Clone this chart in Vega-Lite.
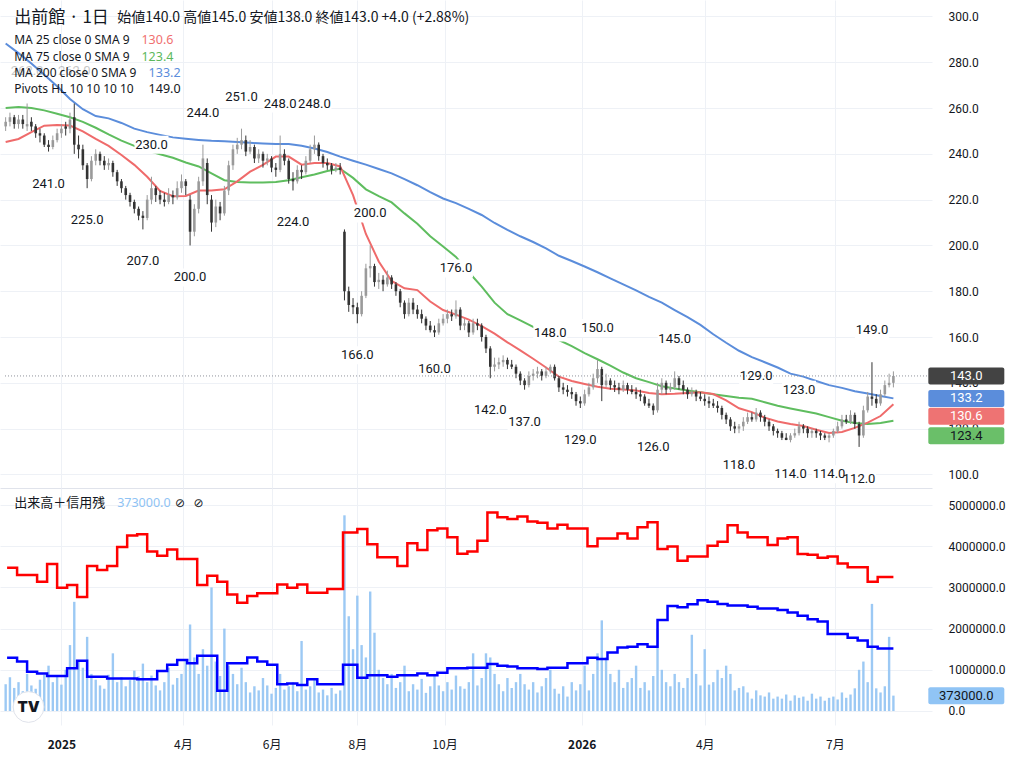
{
"$schema":"https://vega.github.io/schema/vega-lite/v6.json",
"padding":0,
"spacing":0,
"background":"#ffffff",
"config":{"view":{"stroke":null},"font":"Roboto","axis":{"labelFont":"Roboto","labelFontSize":12,"labelColor":"#131722","gridColor":"#eef1f6","gridWidth":1,"ticks":false,"domain":false}},
"resolve":{"scale":{"x":"independent","y":"independent","color":"independent"}},
"datasets":{
"k":[
{"d":"2024-11-28","o":252,"h":256,"l":250,"c":254,"v":650000},
{"d":"2024-12-01","o":254,"h":258,"l":252,"c":256,"v":820000},
{"d":"2024-12-04","o":256,"h":257,"l":251,"c":253,"v":560000},
{"d":"2024-12-07","o":253,"h":257,"l":251,"c":255,"v":700000},
{"d":"2024-12-10","o":255,"h":257,"l":251,"c":253,"v":480000},
{"d":"2024-12-13","o":252,"h":262,"l":250,"c":253,"v":900000},
{"d":"2024-12-16","o":254,"h":256,"l":250,"c":252,"v":620000},
{"d":"2024-12-19","o":252,"h":253,"l":247,"c":249,"v":540000},
{"d":"2024-12-22","o":249,"h":251,"l":245,"c":248,"v":760000},
{"d":"2024-12-25","o":248,"h":249,"l":243,"c":244,"v":880000},
{"d":"2024-12-28","o":244,"h":246,"l":241,"c":243,"v":1100000},
{"d":"2024-12-31","o":243,"h":248,"l":242,"c":246,"v":700000},
{"d":"2025-01-03","o":246,"h":251,"l":245,"c":249,"v":850000},
{"d":"2025-01-06","o":249,"h":253,"l":247,"c":251,"v":640000},
{"d":"2025-01-09","o":252,"h":254,"l":248,"c":251,"v":1000000},
{"d":"2025-01-12","o":251,"h":258,"l":249,"c":255,"v":1600000},
{"d":"2025-01-15","o":256,"h":262,"l":240,"c":244,"v":2650000},
{"d":"2025-01-18","o":244,"h":248,"l":238,"c":242,"v":1200000},
{"d":"2025-01-21","o":242,"h":244,"l":233,"c":235,"v":1050000},
{"d":"2025-01-24","o":235,"h":236,"l":225,"c":229,"v":1800000},
{"d":"2025-01-27","o":229,"h":239,"l":228,"c":237,"v":900000},
{"d":"2025-01-30","o":237,"h":242,"l":235,"c":240,"v":760000},
{"d":"2025-02-02","o":240,"h":241,"l":235,"c":237,"v":620000},
{"d":"2025-02-05","o":237,"h":239,"l":233,"c":235,"v":540000},
{"d":"2025-02-08","o":235,"h":238,"l":233,"c":236,"v":880000},
{"d":"2025-02-11","o":236,"h":237,"l":230,"c":232,"v":1400000},
{"d":"2025-02-14","o":232,"h":233,"l":226,"c":228,"v":700000},
{"d":"2025-02-17","o":228,"h":229,"l":223,"c":225,"v":820000},
{"d":"2025-02-20","o":225,"h":226,"l":220,"c":222,"v":600000},
{"d":"2025-02-23","o":222,"h":223,"l":217,"c":219,"v":750000},
{"d":"2025-02-26","o":219,"h":220,"l":214,"c":216,"v":980000},
{"d":"2025-03-01","o":216,"h":217,"l":211,"c":213,"v":840000},
{"d":"2025-03-04","o":213,"h":215,"l":207,"c":212,"v":1150000},
{"d":"2025-03-07","o":212,"h":222,"l":211,"c":220,"v":700000},
{"d":"2025-03-10","o":220,"h":230,"l":218,"c":225,"v":860000},
{"d":"2025-03-13","o":225,"h":226,"l":219,"c":222,"v":620000},
{"d":"2025-03-16","o":222,"h":224,"l":218,"c":220,"v":500000},
{"d":"2025-03-19","o":220,"h":223,"l":217,"c":219,"v":700000},
{"d":"2025-03-22","o":219,"h":225,"l":218,"c":222,"v":1050000},
{"d":"2025-03-25","o":222,"h":224,"l":218,"c":221,"v":640000},
{"d":"2025-03-28","o":221,"h":228,"l":220,"c":225,"v":800000},
{"d":"2025-03-31","o":225,"h":231,"l":223,"c":228,"v":900000},
{"d":"2025-04-03","o":228,"h":229,"l":222,"c":226,"v":1250000},
{"d":"2025-04-06","o":220,"h":222,"l":200,"c":206,"v":2100000},
{"d":"2025-04-09","o":206,"h":218,"l":204,"c":216,"v":1300000},
{"d":"2025-04-12","o":216,"h":230,"l":214,"c":228,"v":900000},
{"d":"2025-04-15","o":228,"h":244,"l":226,"c":238,"v":1500000},
{"d":"2025-04-18","o":236,"h":238,"l":218,"c":222,"v":1100000},
{"d":"2025-04-21","o":220,"h":222,"l":206,"c":210,"v":3000000},
{"d":"2025-04-24","o":210,"h":220,"l":208,"c":217,"v":1200000},
{"d":"2025-04-27","o":217,"h":219,"l":211,"c":214,"v":850000},
{"d":"2025-04-30","o":214,"h":226,"l":213,"c":224,"v":2000000},
{"d":"2025-05-03","o":224,"h":237,"l":222,"c":235,"v":1100000},
{"d":"2025-05-06","o":235,"h":244,"l":233,"c":242,"v":900000},
{"d":"2025-05-09","o":242,"h":247,"l":240,"c":244,"v":650000},
{"d":"2025-05-12","o":244,"h":251,"l":242,"c":246,"v":1050000},
{"d":"2025-05-15","o":246,"h":248,"l":239,"c":241,"v":700000},
{"d":"2025-05-18","o":241,"h":246,"l":240,"c":243,"v":450000},
{"d":"2025-05-21","o":243,"h":244,"l":236,"c":238,"v":600000},
{"d":"2025-05-24","o":238,"h":242,"l":236,"c":240,"v":500000},
{"d":"2025-05-27","o":240,"h":241,"l":234,"c":237,"v":800000},
{"d":"2025-05-30","o":237,"h":240,"l":235,"c":238,"v":620000},
{"d":"2025-06-02","o":238,"h":239,"l":232,"c":234,"v":420000},
{"d":"2025-06-05","o":234,"h":236,"l":230,"c":233,"v":560000},
{"d":"2025-06-08","o":233,"h":248,"l":232,"c":240,"v":900000},
{"d":"2025-06-11","o":240,"h":242,"l":235,"c":237,"v":520000},
{"d":"2025-06-14","o":237,"h":238,"l":227,"c":229,"v":600000},
{"d":"2025-06-17","o":229,"h":232,"l":224,"c":228,"v":700000},
{"d":"2025-06-20","o":228,"h":235,"l":227,"c":233,"v":480000},
{"d":"2025-06-23","o":233,"h":235,"l":229,"c":232,"v":1700000},
{"d":"2025-06-26","o":232,"h":239,"l":231,"c":237,"v":520000},
{"d":"2025-06-29","o":237,"h":244,"l":236,"c":242,"v":600000},
{"d":"2025-07-02","o":242,"h":248,"l":240,"c":244,"v":780000},
{"d":"2025-07-05","o":244,"h":245,"l":237,"c":239,"v":450000},
{"d":"2025-07-08","o":239,"h":240,"l":234,"c":236,"v":520000},
{"d":"2025-07-11","o":236,"h":238,"l":233,"c":235,"v":380000},
{"d":"2025-07-14","o":235,"h":236,"l":231,"c":233,"v":560000},
{"d":"2025-07-17","o":233,"h":236,"l":232,"c":234,"v":420000},
{"d":"2025-07-20","o":234,"h":236,"l":231,"c":233,"v":500000},
{"d":"2025-07-23","o":206,"h":207,"l":176,"c":180,"v":4750000},
{"d":"2025-07-26","o":180,"h":182,"l":171,"c":174,"v":2300000},
{"d":"2025-07-29","o":174,"h":177,"l":170,"c":173,"v":1500000},
{"d":"2025-08-01","o":173,"h":175,"l":166,"c":170,"v":2800000},
{"d":"2025-08-04","o":170,"h":180,"l":169,"c":178,"v":1600000},
{"d":"2025-08-07","o":178,"h":192,"l":177,"c":190,"v":1300000},
{"d":"2025-08-10","o":190,"h":200,"l":186,"c":191,"v":2900000},
{"d":"2025-08-13","o":191,"h":192,"l":182,"c":184,"v":1900000},
{"d":"2025-08-16","o":184,"h":188,"l":181,"c":185,"v":1000000},
{"d":"2025-08-19","o":185,"h":187,"l":180,"c":183,"v":800000},
{"d":"2025-08-22","o":183,"h":189,"l":182,"c":186,"v":650000},
{"d":"2025-08-25","o":186,"h":187,"l":181,"c":183,"v":900000},
{"d":"2025-08-28","o":183,"h":184,"l":178,"c":180,"v":560000},
{"d":"2025-08-31","o":180,"h":181,"l":173,"c":175,"v":700000},
{"d":"2025-09-03","o":175,"h":176,"l":168,"c":170,"v":1100000},
{"d":"2025-09-06","o":170,"h":177,"l":169,"c":175,"v":480000},
{"d":"2025-09-09","o":175,"h":177,"l":170,"c":172,"v":650000},
{"d":"2025-09-12","o":172,"h":174,"l":168,"c":170,"v":520000},
{"d":"2025-09-15","o":170,"h":172,"l":166,"c":168,"v":780000},
{"d":"2025-09-18","o":168,"h":169,"l":163,"c":165,"v":440000},
{"d":"2025-09-21","o":165,"h":167,"l":162,"c":163,"v":600000},
{"d":"2025-09-24","o":163,"h":165,"l":160,"c":162,"v":900000},
{"d":"2025-09-27","o":162,"h":168,"l":161,"c":166,"v":620000},
{"d":"2025-09-30","o":166,"h":170,"l":165,"c":168,"v":480000},
{"d":"2025-10-03","o":168,"h":172,"l":166,"c":170,"v":700000},
{"d":"2025-10-06","o":170,"h":172,"l":167,"c":169,"v":520000},
{"d":"2025-10-09","o":169,"h":176,"l":168,"c":172,"v":860000},
{"d":"2025-10-12","o":172,"h":173,"l":163,"c":165,"v":600000},
{"d":"2025-10-15","o":165,"h":168,"l":163,"c":166,"v":540000},
{"d":"2025-10-18","o":166,"h":167,"l":160,"c":162,"v":700000},
{"d":"2025-10-21","o":162,"h":168,"l":161,"c":166,"v":1400000},
{"d":"2025-10-24","o":166,"h":168,"l":163,"c":165,"v":620000},
{"d":"2025-10-27","o":165,"h":166,"l":158,"c":160,"v":800000},
{"d":"2025-10-30","o":160,"h":161,"l":153,"c":155,"v":1400000},
{"d":"2025-11-02","o":155,"h":156,"l":142,"c":147,"v":1300000},
{"d":"2025-11-05","o":147,"h":151,"l":145,"c":148,"v":900000},
{"d":"2025-11-08","o":148,"h":151,"l":146,"c":149,"v":650000},
{"d":"2025-11-11","o":149,"h":152,"l":147,"c":150,"v":480000},
{"d":"2025-11-14","o":150,"h":151,"l":146,"c":148,"v":800000},
{"d":"2025-11-17","o":148,"h":150,"l":146,"c":147,"v":560000},
{"d":"2025-11-20","o":147,"h":148,"l":142,"c":144,"v":700000},
{"d":"2025-11-23","o":144,"h":145,"l":139,"c":141,"v":900000},
{"d":"2025-11-26","o":141,"h":142,"l":137,"c":139,"v":650000},
{"d":"2025-11-29","o":139,"h":145,"l":138,"c":143,"v":520000},
{"d":"2025-12-02","o":143,"h":146,"l":141,"c":144,"v":700000},
{"d":"2025-12-05","o":144,"h":147,"l":142,"c":145,"v":450000},
{"d":"2025-12-08","o":145,"h":146,"l":141,"c":143,"v":600000},
{"d":"2025-12-11","o":143,"h":147,"l":142,"c":145,"v":800000},
{"d":"2025-12-14","o":145,"h":148,"l":144,"c":147,"v":1000000},
{"d":"2025-12-17","o":147,"h":148,"l":141,"c":142,"v":540000},
{"d":"2025-12-20","o":142,"h":143,"l":136,"c":138,"v":420000},
{"d":"2025-12-23","o":138,"h":140,"l":135,"c":137,"v":600000},
{"d":"2025-12-26","o":137,"h":139,"l":134,"c":136,"v":350000},
{"d":"2025-12-29","o":136,"h":138,"l":133,"c":135,"v":700000},
{"d":"2026-01-01","o":135,"h":136,"l":130,"c":132,"v":500000},
{"d":"2026-01-04","o":132,"h":134,"l":129,"c":131,"v":650000},
{"d":"2026-01-07","o":131,"h":137,"l":130,"c":135,"v":1100000},
{"d":"2026-01-10","o":135,"h":140,"l":134,"c":138,"v":500000},
{"d":"2026-01-13","o":138,"h":144,"l":137,"c":142,"v":900000},
{"d":"2026-01-16","o":142,"h":150,"l":140,"c":146,"v":1400000},
{"d":"2026-01-19","o":146,"h":147,"l":132,"c":139,"v":2200000},
{"d":"2026-01-22","o":139,"h":144,"l":138,"c":141,"v":1300000},
{"d":"2026-01-25","o":141,"h":142,"l":137,"c":139,"v":900000},
{"d":"2026-01-28","o":139,"h":141,"l":136,"c":138,"v":700000},
{"d":"2026-01-31","o":138,"h":140,"l":135,"c":137,"v":1000000},
{"d":"2026-02-03","o":137,"h":141,"l":136,"c":139,"v":560000},
{"d":"2026-02-06","o":139,"h":140,"l":135,"c":137,"v":700000},
{"d":"2026-02-09","o":137,"h":139,"l":135,"c":136,"v":800000},
{"d":"2026-02-12","o":136,"h":138,"l":133,"c":135,"v":1100000},
{"d":"2026-02-15","o":135,"h":137,"l":132,"c":134,"v":560000},
{"d":"2026-02-18","o":134,"h":135,"l":130,"c":131,"v":700000},
{"d":"2026-02-21","o":131,"h":133,"l":129,"c":130,"v":500000},
{"d":"2026-02-24","o":130,"h":131,"l":126,"c":128,"v":850000},
{"d":"2026-02-27","o":128,"h":140,"l":127,"c":137,"v":2000000},
{"d":"2026-03-02","o":137,"h":142,"l":135,"c":140,"v":1000000},
{"d":"2026-03-05","o":140,"h":141,"l":135,"c":137,"v":700000},
{"d":"2026-03-08","o":137,"h":140,"l":136,"c":138,"v":600000},
{"d":"2026-03-11","o":138,"h":145,"l":137,"c":142,"v":900000},
{"d":"2026-03-14","o":142,"h":143,"l":137,"c":139,"v":700000},
{"d":"2026-03-17","o":139,"h":141,"l":135,"c":137,"v":560000},
{"d":"2026-03-20","o":137,"h":138,"l":133,"c":135,"v":800000},
{"d":"2026-03-23","o":135,"h":138,"l":134,"c":136,"v":1850000},
{"d":"2026-03-26","o":136,"h":137,"l":132,"c":134,"v":900000},
{"d":"2026-03-29","o":134,"h":136,"l":132,"c":133,"v":620000},
{"d":"2026-04-01","o":133,"h":135,"l":130,"c":132,"v":1500000},
{"d":"2026-04-04","o":132,"h":134,"l":129,"c":131,"v":640000},
{"d":"2026-04-07","o":131,"h":133,"l":129,"c":130,"v":700000},
{"d":"2026-04-10","o":130,"h":132,"l":127,"c":129,"v":1000000},
{"d":"2026-04-13","o":129,"h":130,"l":124,"c":126,"v":800000},
{"d":"2026-04-16","o":126,"h":127,"l":122,"c":124,"v":1100000},
{"d":"2026-04-19","o":124,"h":125,"l":119,"c":121,"v":900000},
{"d":"2026-04-22","o":121,"h":123,"l":118,"c":120,"v":500000},
{"d":"2026-04-25","o":120,"h":122,"l":118,"c":121,"v":560000},
{"d":"2026-04-28","o":121,"h":125,"l":119,"c":123,"v":600000},
{"d":"2026-05-01","o":123,"h":127,"l":122,"c":125,"v":450000},
{"d":"2026-05-04","o":125,"h":127,"l":123,"c":124,"v":300000},
{"d":"2026-05-07","o":124,"h":129,"l":123,"c":127,"v":500000},
{"d":"2026-05-10","o":127,"h":128,"l":123,"c":125,"v":380000},
{"d":"2026-05-13","o":125,"h":126,"l":121,"c":123,"v":350000},
{"d":"2026-05-16","o":123,"h":124,"l":119,"c":121,"v":450000},
{"d":"2026-05-19","o":121,"h":122,"l":117,"c":119,"v":300000},
{"d":"2026-05-22","o":119,"h":120,"l":116,"c":118,"v":350000},
{"d":"2026-05-25","o":118,"h":119,"l":115,"c":116,"v":300000},
{"d":"2026-05-28","o":116,"h":118,"l":115,"c":115,"v":400000},
{"d":"2026-05-31","o":115,"h":118,"l":114,"c":117,"v":250000},
{"d":"2026-06-03","o":117,"h":120,"l":116,"c":118,"v":380000},
{"d":"2026-06-06","o":118,"h":123,"l":117,"c":121,"v":320000},
{"d":"2026-06-09","o":121,"h":122,"l":118,"c":120,"v":350000},
{"d":"2026-06-12","o":120,"h":121,"l":116,"c":118,"v":250000},
{"d":"2026-06-15","o":118,"h":120,"l":116,"c":119,"v":420000},
{"d":"2026-06-18","o":119,"h":120,"l":116,"c":118,"v":300000},
{"d":"2026-06-21","o":118,"h":119,"l":115,"c":117,"v":350000},
{"d":"2026-06-24","o":117,"h":118,"l":115,"c":116,"v":250000},
{"d":"2026-06-27","o":116,"h":118,"l":114,"c":117,"v":320000},
{"d":"2026-06-30","o":117,"h":120,"l":116,"c":119,"v":350000},
{"d":"2026-07-03","o":119,"h":123,"l":118,"c":121,"v":280000},
{"d":"2026-07-06","o":121,"h":126,"l":120,"c":124,"v":450000},
{"d":"2026-07-09","o":124,"h":126,"l":122,"c":123,"v":320000},
{"d":"2026-07-12","o":123,"h":128,"l":122,"c":126,"v":400000},
{"d":"2026-07-15","o":126,"h":127,"l":120,"c":122,"v":550000},
{"d":"2026-07-18","o":122,"h":123,"l":112,"c":117,"v":1000000},
{"d":"2026-07-21","o":117,"h":130,"l":116,"c":128,"v":1200000},
{"d":"2026-07-24","o":128,"h":136,"l":127,"c":134,"v":700000},
{"d":"2026-07-27","o":134,"h":149,"l":130,"c":133,"v":2600000},
{"d":"2026-07-30","o":133,"h":135,"l":129,"c":131,"v":550000},
{"d":"2026-08-02","o":131,"h":137,"l":130,"c":135,"v":450000},
{"d":"2026-08-05","o":135,"h":141,"l":134,"c":139,"v":600000},
{"d":"2026-08-08","o":139,"h":144,"l":138,"c":140,"v":1800000},
{"d":"2026-08-11","o":140,"h":145,"l":138,"c":143,"v":373000}
],
"ma":[
{"d":"2024-11-28","m25":245.2,"m75":260,"m200":288.2},
{"d":"2024-12-07","m25":246.5,"m75":260.5,"m200":284},
{"d":"2024-12-16","m25":249.5,"m75":260,"m200":279.5},
{"d":"2024-12-25","m25":252.3,"m75":259,"m200":274.5},
{"d":"2025-01-03","m25":252.6,"m75":257.5,"m200":269.5},
{"d":"2025-01-12","m25":252.4,"m75":256,"m200":264},
{"d":"2025-01-21","m25":249.8,"m75":254,"m200":259.5},
{"d":"2025-01-30","m25":246.5,"m75":251.4,"m200":256.5},
{"d":"2025-02-08","m25":243.5,"m75":248.5,"m200":255.5},
{"d":"2025-02-17","m25":239.5,"m75":245.8,"m200":253.5},
{"d":"2025-02-26","m25":235.2,"m75":243.5,"m200":251},
{"d":"2025-03-07","m25":230,"m75":241.5,"m200":249.5},
{"d":"2025-03-16","m25":223.8,"m75":239.8,"m200":248.3},
{"d":"2025-03-25","m25":221.5,"m75":238.3,"m200":247.2},
{"d":"2025-04-03","m25":221.6,"m75":236.2,"m200":246.6},
{"d":"2025-04-12","m25":224,"m75":234.5,"m200":246.1},
{"d":"2025-04-21","m25":224,"m75":231.5,"m200":245.7},
{"d":"2025-04-30","m25":224.5,"m75":228.5,"m200":245.5},
{"d":"2025-05-09","m25":228,"m75":227.7,"m200":245.2},
{"d":"2025-05-18","m25":232.2,"m75":227.5,"m200":244.8},
{"d":"2025-05-27","m25":235.2,"m75":227.5,"m200":244.5},
{"d":"2025-06-05","m25":238.8,"m75":227.7,"m200":244.3},
{"d":"2025-06-14","m25":238.8,"m75":228.5,"m200":244.3},
{"d":"2025-06-23","m25":235.3,"m75":229.8,"m200":243.5},
{"d":"2025-07-02","m25":236,"m75":231,"m200":242.3},
{"d":"2025-07-11","m25":236,"m75":232.5,"m200":240.8},
{"d":"2025-07-20","m25":234.5,"m75":233.5,"m200":238.8},
{"d":"2025-07-29","m25":222,"m75":229.5,"m200":237},
{"d":"2025-08-07","m25":205,"m75":224.5,"m200":235.3},
{"d":"2025-08-16","m25":193,"m75":221.5,"m200":233.4},
{"d":"2025-08-25","m25":184.5,"m75":218.8,"m200":231.5},
{"d":"2025-09-03","m25":181.3,"m75":214,"m200":229},
{"d":"2025-09-12","m25":180.5,"m75":209.5,"m200":226.3},
{"d":"2025-09-21","m25":175.5,"m75":204,"m200":223.3},
{"d":"2025-09-30","m25":171.8,"m75":199.5,"m200":220.5},
{"d":"2025-10-09","m25":169.8,"m75":195,"m200":218.5},
{"d":"2025-10-18","m25":167.6,"m75":188.3,"m200":216},
{"d":"2025-10-27","m25":164.8,"m75":182,"m200":213.3},
{"d":"2025-11-05","m25":161.5,"m75":175,"m200":209.8},
{"d":"2025-11-14","m25":157.7,"m75":170,"m200":206.8},
{"d":"2025-11-23","m25":154.2,"m75":167.3,"m200":204},
{"d":"2025-12-02","m25":150.5,"m75":164.4,"m200":201.5},
{"d":"2025-12-11","m25":146.7,"m75":161.5,"m200":198.7},
{"d":"2025-12-20","m25":142.7,"m75":158.7,"m200":195.5},
{"d":"2025-12-29","m25":140.8,"m75":156,"m200":193.2},
{"d":"2026-01-07","m25":139.5,"m75":153,"m200":190.8},
{"d":"2026-01-16","m25":138.3,"m75":150.3,"m200":188.3},
{"d":"2026-01-25","m25":137.4,"m75":147.5,"m200":185.6},
{"d":"2026-02-03","m25":137.1,"m75":144.5,"m200":183},
{"d":"2026-02-12","m25":136.6,"m75":142,"m200":180.4},
{"d":"2026-02-21","m25":135.6,"m75":140.3,"m200":177.5},
{"d":"2026-03-02","m25":135,"m75":138.5,"m200":175},
{"d":"2026-03-11","m25":135.2,"m75":137.5,"m200":171.8},
{"d":"2026-03-20","m25":135.6,"m75":136.6,"m200":168.7},
{"d":"2026-03-29","m25":135.9,"m75":135.9,"m200":165.3},
{"d":"2026-04-07","m25":135.1,"m75":135,"m200":161.2},
{"d":"2026-04-16","m25":132.3,"m75":134.2,"m200":157.5},
{"d":"2026-04-25","m25":128.9,"m75":133.5,"m200":154},
{"d":"2026-05-04","m25":127.2,"m75":133,"m200":151.2},
{"d":"2026-05-13","m25":124.8,"m75":131.5,"m200":149},
{"d":"2026-05-22","m25":123.1,"m75":130,"m200":146.7},
{"d":"2026-05-31","m25":122,"m75":128.8,"m200":144},
{"d":"2026-06-09","m25":121.1,"m75":127.7,"m200":142.7},
{"d":"2026-06-18","m25":119.5,"m75":126.6,"m200":140.8},
{"d":"2026-06-27","m25":118.1,"m75":125,"m200":139},
{"d":"2026-07-06","m25":118.5,"m75":123.4,"m200":137.8},
{"d":"2026-07-15","m25":120.3,"m75":122.5,"m200":136.3},
{"d":"2026-07-24","m25":122.6,"m75":122,"m200":135.3},
{"d":"2026-08-02","m25":125.5,"m75":122.5,"m200":134.2},
{"d":"2026-08-11","m25":130.6,"m75":123.4,"m200":133.2}
],
"mg":[
{"d":"2024-11-29","b":3480000,"s":1290000},
{"d":"2024-12-06","b":3300000,"s":1200000},
{"d":"2024-12-13","b":3300000,"s":950000},
{"d":"2024-12-20","b":3140000,"s":910000},
{"d":"2024-12-27","b":3570000,"s":850000},
{"d":"2025-01-03","b":2990000,"s":850000},
{"d":"2025-01-10","b":3060000,"s":1040000},
{"d":"2025-01-17","b":2770000,"s":1220000},
{"d":"2025-01-24","b":3520000,"s":830000},
{"d":"2025-01-31","b":3420000,"s":830000},
{"d":"2025-02-07","b":3520000,"s":790000},
{"d":"2025-02-14","b":3980000,"s":790000},
{"d":"2025-02-21","b":4260000,"s":790000},
{"d":"2025-02-28","b":4290000,"s":770000},
{"d":"2025-03-07","b":3870000,"s":770000},
{"d":"2025-03-14","b":3770000,"s":970000},
{"d":"2025-03-21","b":3920000,"s":1120000},
{"d":"2025-03-28","b":3690000,"s":1240000},
{"d":"2025-04-04","b":3690000,"s":1160000},
{"d":"2025-04-11","b":3060000,"s":1340000},
{"d":"2025-04-18","b":3280000,"s":1340000},
{"d":"2025-04-25","b":3140000,"s":490000},
{"d":"2025-05-02","b":2830000,"s":1160000},
{"d":"2025-05-09","b":2630000,"s":1160000},
{"d":"2025-05-16","b":2790000,"s":1300000},
{"d":"2025-05-23","b":2860000,"s":1200000},
{"d":"2025-05-30","b":2860000,"s":1120000},
{"d":"2025-06-06","b":3070000,"s":650000},
{"d":"2025-06-13","b":2990000,"s":670000},
{"d":"2025-06-20","b":3070000,"s":630000},
{"d":"2025-06-27","b":2870000,"s":770000},
{"d":"2025-07-04","b":2870000,"s":650000},
{"d":"2025-07-11","b":2960000,"s":650000},
{"d":"2025-07-18","b":2960000,"s":650000},
{"d":"2025-07-22","b":4330000,"s":1120000},
{"d":"2025-08-01","b":4420000,"s":810000},
{"d":"2025-08-08","b":4050000,"s":870000},
{"d":"2025-08-15","b":3730000,"s":870000},
{"d":"2025-08-22","b":3730000,"s":830000},
{"d":"2025-08-29","b":3520000,"s":870000},
{"d":"2025-09-05","b":4070000,"s":870000},
{"d":"2025-09-12","b":3910000,"s":910000},
{"d":"2025-09-19","b":4390000,"s":870000},
{"d":"2025-09-26","b":4430000,"s":930000},
{"d":"2025-10-03","b":4220000,"s":1040000},
{"d":"2025-10-10","b":3820000,"s":1040000},
{"d":"2025-10-17","b":3870000,"s":1050000},
{"d":"2025-10-24","b":4130000,"s":1050000},
{"d":"2025-10-31","b":4820000,"s":1140000},
{"d":"2025-11-07","b":4700000,"s":1100000},
{"d":"2025-11-14","b":4660000,"s":1080000},
{"d":"2025-11-21","b":4720000,"s":1040000},
{"d":"2025-11-28","b":4600000,"s":1040000},
{"d":"2025-12-05","b":4570000,"s":1020000},
{"d":"2025-12-12","b":4430000,"s":1050000},
{"d":"2025-12-19","b":4520000,"s":1050000},
{"d":"2025-12-26","b":4430000,"s":1160000},
{"d":"2026-01-02","b":4430000,"s":1160000},
{"d":"2026-01-09","b":4000000,"s":1290000},
{"d":"2026-01-16","b":4190000,"s":1260000},
{"d":"2026-01-23","b":4190000,"s":1420000},
{"d":"2026-01-30","b":4310000,"s":1540000},
{"d":"2026-02-06","b":4190000,"s":1560000},
{"d":"2026-02-13","b":4460000,"s":1620000},
{"d":"2026-02-20","b":4580000,"s":1560000},
{"d":"2026-02-27","b":3930000,"s":2210000},
{"d":"2026-03-06","b":3990000,"s":2550000},
{"d":"2026-03-13","b":3650000,"s":2520000},
{"d":"2026-03-20","b":3750000,"s":2590000},
{"d":"2026-03-27","b":3750000,"s":2690000},
{"d":"2026-04-03","b":4010000,"s":2650000},
{"d":"2026-04-10","b":4110000,"s":2600000},
{"d":"2026-04-17","b":4510000,"s":2560000},
{"d":"2026-04-24","b":4330000,"s":2560000},
{"d":"2026-05-01","b":4220000,"s":2530000},
{"d":"2026-05-08","b":4220000,"s":2490000},
{"d":"2026-05-15","b":4030000,"s":2490000},
{"d":"2026-05-22","b":4190000,"s":2450000},
{"d":"2026-05-29","b":4220000,"s":2390000},
{"d":"2026-06-05","b":3810000,"s":2310000},
{"d":"2026-06-12","b":3790000,"s":2230000},
{"d":"2026-06-19","b":3720000,"s":2170000},
{"d":"2026-06-26","b":3750000,"s":1870000},
{"d":"2026-07-03","b":3580000,"s":1870000},
{"d":"2026-07-10","b":3490000,"s":1780000},
{"d":"2026-07-17","b":3490000,"s":1710000},
{"d":"2026-07-24","b":3140000,"s":1560000},
{"d":"2026-07-31","b":3250000,"s":1520000},
{"d":"2026-08-07","b":3250000,"s":1520000},
{"d":"2026-08-11","b":3250000,"s":1520000}
],
"pv":[
{"d":"2024-12-13","p":262,"t":"H"},
{"d":"2025-01-15","p":262,"t":"H"},
{"d":"2025-03-10","p":230,"t":"H"},
{"d":"2025-04-15","p":244,"t":"H"},
{"d":"2025-05-12","p":251,"t":"H"},
{"d":"2025-06-08","p":248,"t":"H"},
{"d":"2025-07-02","p":248,"t":"H"},
{"d":"2025-08-10","p":200,"t":"H"},
{"d":"2025-10-09","p":176,"t":"H"},
{"d":"2025-12-14","p":148,"t":"H"},
{"d":"2026-01-16","p":150,"t":"H"},
{"d":"2026-03-11","p":145,"t":"H"},
{"d":"2026-05-07","p":129,"t":"H"},
{"d":"2026-06-06","p":123,"t":"H"},
{"d":"2026-07-27","p":149,"t":"H"},
{"d":"2024-12-28","p":241,"t":"L"},
{"d":"2025-01-24","p":225,"t":"L"},
{"d":"2025-03-04","p":207,"t":"L"},
{"d":"2025-04-06","p":200,"t":"L"},
{"d":"2025-06-17","p":224,"t":"L"},
{"d":"2025-08-01","p":166,"t":"L"},
{"d":"2025-09-24","p":160,"t":"L"},
{"d":"2025-11-02","p":142,"t":"L"},
{"d":"2025-11-26","p":137,"t":"L"},
{"d":"2026-01-04","p":129,"t":"L"},
{"d":"2026-02-24","p":126,"t":"L"},
{"d":"2026-04-25","p":118,"t":"L"},
{"d":"2026-05-31","p":114,"t":"L"},
{"d":"2026-06-27","p":114,"t":"L"},
{"d":"2026-07-18","p":112,"t":"L"}
],
"last":[
{"s":"close","v":143.0},
{"s":"MA200","v":133.2},
{"s":"MA25","v":130.6},
{"s":"MA75","v":123.4}
]
},
"vconcat":[
{
"width":932,"height":488,
"layer":[
{"data":{"name":"ma"},"mark":{"type":"line","color":"#5fbd5f","strokeWidth":2},"encoding":{"x":{"field":"d","type":"temporal","scale":{"domain":[1732712400000,1788436800000]},"axis":{"orient":"bottom","title":null,"labels":false,"domain":true,"domainColor":"#e0e3eb","grid":true,"values":[1736121600000,1743465600000,1748822400000,1754006400000,1759276800000,1767571200000,1775001600000,1782864000000]}},"y":{"field":"m75","type":"quantitative","scale":{"domain":[94.06,307.2],"nice":false,"zero":false},"axis":{"orient":"right","title":null,"values":[100,120,140,160,180,200,220,240,260,280,300],"format":".1f","labelPadding":16,"grid":true}}}},
{"data":{"name":"ma"},"mark":{"type":"line","color":"#5b8ddb","strokeWidth":2},"encoding":{"x":{"field":"d","type":"temporal"},"y":{"field":"m200","type":"quantitative"}}},
{"data":{"name":"ma"},"mark":{"type":"line","color":"#ef6b6b","strokeWidth":2},"encoding":{"x":{"field":"d","type":"temporal"},"y":{"field":"m25","type":"quantitative"}}},
{"data":{"name":"pv"},"transform":[{"filter":"datum.t=='H' && datum.p<255"}],"mark":{"type":"rect","color":"#ffffff","width":34,"height":18,"yOffset":-32},"encoding":{"x":{"field":"d","type":"temporal"},"y":{"field":"p","type":"quantitative"}}},
{"data":{"name":"pv"},"transform":[{"filter":"datum.t=='L'"}],"mark":{"type":"rect","color":"#ffffff","width":34,"height":18,"yOffset":32},"encoding":{"x":{"field":"d","type":"temporal"},"y":{"field":"p","type":"quantitative"}}},
{"data":{"name":"k"},"mark":{"type":"rule","strokeWidth":1},"encoding":{"x":{"field":"d","type":"temporal"},"y":{"field":"l","type":"quantitative"},"y2":{"field":"h"},"color":{"condition":{"test":"datum.c>=datum.o","value":"#9a9a9a"},"value":"#333333"}}},
{"data":{"name":"k"},"mark":{"type":"bar","size":2.6},"encoding":{"x":{"field":"d","type":"temporal"},"y":{"field":"o","type":"quantitative"},"y2":{"field":"c"},"color":{"condition":{"test":"datum.c>=datum.o","value":"#9a9a9a"},"value":"#333333"}}},
{"data":{"values":[{}]},"mark":{"type":"rule","strokeDash":[1,2],"color":"#8f929b","strokeWidth":1},"encoding":{"x":{"datum":1732712400000,"type":"temporal"},"x2":{"datum":1788436800000},"y":{"datum":143,"type":"quantitative"}}},
{"data":{"name":"pv"},"transform":[{"filter":"datum.t=='H'"}],"mark":{"type":"text","font":"Roboto","fontSize":13,"color":"#131722","baseline":"middle","dy":-32},"encoding":{"x":{"field":"d","type":"temporal"},"y":{"field":"p","type":"quantitative"},"text":{"field":"p","format":".1f"},"opacity":{"condition":{"test":"datum.p>255","value":0.25},"value":1}}},
{"data":{"name":"pv"},"transform":[{"filter":"datum.t=='L'"}],"mark":{"type":"text","font":"Roboto","fontSize":13,"color":"#131722","baseline":"middle","dy":32},"encoding":{"x":{"field":"d","type":"temporal"},"y":{"field":"p","type":"quantitative"},"text":{"field":"p","format":".1f"}}},
{"data":{"values":[{}]},"mark":{"type":"text","font":"Noto Sans CJK JP","fontSize":17,"color":"#131722","align":"left","baseline":"middle","text":"出前館 · 1日"},"encoding":{"x":{"datum":1733270400000,"type":"temporal"},"y":{"datum":299.3,"type":"quantitative"}}},
{"data":{"values":[{}]},"mark":{"type":"text","font":"Noto Sans CJK JP","fontSize":14,"color":"#131722","align":"left","baseline":"middle","text":"始値140.0  高値145.0  安値138.0  終値143.0  +4.0 (+2.88%)"},"encoding":{"x":{"datum":1739491200000,"type":"temporal"},"y":{"datum":299.3,"type":"quantitative"}}},
{"data":{"values":[{}]},"mark":{"type":"text","font":"Noto Sans","fontSize":12,"color":"#131722","align":"left","baseline":"middle","text":"MA 25 close 0 SMA 9"},"encoding":{"x":{"datum":1733270400000,"type":"temporal"},"y":{"datum":289.7,"type":"quantitative"}}},
{"data":{"values":[{}]},"mark":{"type":"text","font":"Noto Sans","fontSize":12,"color":"#131722","align":"left","baseline":"middle","text":"MA 75 close 0 SMA 9"},"encoding":{"x":{"datum":1733270400000,"type":"temporal"},"y":{"datum":282.3,"type":"quantitative"}}},
{"data":{"values":[{}]},"mark":{"type":"text","font":"Noto Sans","fontSize":12,"color":"#131722","align":"left","baseline":"middle","text":"MA 200 close 0 SMA 9"},"encoding":{"x":{"datum":1733270400000,"type":"temporal"},"y":{"datum":275.3,"type":"quantitative"}}},
{"data":{"values":[{}]},"mark":{"type":"text","font":"Noto Sans","fontSize":12,"color":"#131722","align":"left","baseline":"middle","text":"Pivots HL 10 10 10 10"},"encoding":{"x":{"datum":1733270400000,"type":"temporal"},"y":{"datum":268.3,"type":"quantitative"}}},
{"data":{"values":[{}]},"mark":{"type":"text","font":"Noto Sans","fontSize":12.5,"color":"#f07070","align":"left","baseline":"middle","text":"130.6"},"encoding":{"x":{"datum":1740960000000,"type":"temporal"},"y":{"datum":289.7,"type":"quantitative"}}},
{"data":{"values":[{}]},"mark":{"type":"text","font":"Noto Sans","fontSize":12.5,"color":"#5cb85c","align":"left","baseline":"middle","text":"123.4"},"encoding":{"x":{"datum":1740960000000,"type":"temporal"},"y":{"datum":282.3,"type":"quantitative"}}},
{"data":{"values":[{}]},"mark":{"type":"text","font":"Noto Sans","fontSize":12.5,"color":"#5b8ddb","align":"left","baseline":"middle","text":"133.2"},"encoding":{"x":{"datum":1741392000000,"type":"temporal"},"y":{"datum":275.3,"type":"quantitative"}}},
{"data":{"values":[{}]},"mark":{"type":"text","font":"Noto Sans","fontSize":12.5,"color":"#131722","align":"left","baseline":"middle","text":"149.0"},"encoding":{"x":{"datum":1741392000000,"type":"temporal"},"y":{"datum":268.3,"type":"quantitative"}}},
{"data":{"name":"last"},"transform":[{"filter":"datum.s=='close' || datum.s=='MA200'"}],"mark":{"type":"rect","width":76,"height":17,"cornerRadius":2},"encoding":{"x":{"datum":1790812800000,"type":"temporal"},"y":{"field":"v","type":"quantitative"},"color":{"field":"s","type":"nominal","legend":null,"scale":{"domain":["close","MA200","MA25","MA75"],"range":["#434343","#5b8ddb","#ee7373","#6abf69"]}}}},
{"data":{"name":"last"},"transform":[{"filter":"datum.s=='MA25'"}],"mark":{"type":"rect","width":76,"height":17,"cornerRadius":2,"yOffset":12},"encoding":{"x":{"datum":1790812800000,"type":"temporal"},"y":{"field":"v","type":"quantitative"},"color":{"field":"s","type":"nominal","legend":null}}},
{"data":{"name":"last"},"transform":[{"filter":"datum.s=='MA75'"}],"mark":{"type":"rect","width":76,"height":17,"cornerRadius":2,"yOffset":15},"encoding":{"x":{"datum":1790812800000,"type":"temporal"},"y":{"field":"v","type":"quantitative"},"color":{"field":"s","type":"nominal","legend":null}}},
{"data":{"name":"last"},"transform":[{"filter":"datum.s=='close' || datum.s=='MA200'"}],"mark":{"type":"text","fontSize":13,"align":"center","baseline":"middle","color":"#ffffff"},"encoding":{"x":{"datum":1790812800000,"type":"temporal"},"y":{"field":"v","type":"quantitative"},"text":{"field":"v","format":".1f"}}},
{"data":{"name":"last"},"transform":[{"filter":"datum.s=='MA25'"}],"mark":{"type":"text","fontSize":13,"align":"center","baseline":"middle","color":"#ffffff","dy":12},"encoding":{"x":{"datum":1790812800000,"type":"temporal"},"y":{"field":"v","type":"quantitative"},"text":{"field":"v","format":".1f"}}},
{"data":{"name":"last"},"transform":[{"filter":"datum.s=='MA75'"}],"mark":{"type":"text","fontSize":13,"align":"center","baseline":"middle","color":"#131722","dy":15},"encoding":{"x":{"datum":1790812800000,"type":"temporal"},"y":{"field":"v","type":"quantitative"},"text":{"field":"v","format":".1f"}}}
]
},
{
"width":932,"height":237,
"layer":[
{"data":{"name":"k"},"mark":{"type":"bar","size":2.4,"color":"#9cc9f4"},"encoding":{"x":{"field":"d","type":"temporal","scale":{"domain":[1732712400000,1788436800000]},"axis":{"title":null,"grid":true,"labelPadding":14,"values":[1736121600000,1743465600000,1748822400000,1754006400000,1759276800000,1767571200000,1775001600000,1782864000000],"labelExpr":"utcmonth(datum.value)==0 ? ''+utcyear(datum.value) : (utcmonth(datum.value)+1)+'月'","labelFont":"Noto Sans CJK JP","labelFontWeight":{"condition":{"test":"utcmonth(datum.value)==0","value":"bold"},"value":"normal"}}},"y":{"field":"v","type":"quantitative","scale":{"domain":[-340000,5413000],"nice":false,"zero":false},"axis":{"orient":"right","title":null,"values":[0,1000000,2000000,3000000,4000000,5000000],"format":".1f","labelPadding":16,"grid":true}}}},
{"data":{"name":"mg"},"mark":{"type":"line","interpolate":"step-after","color":"#ff0000","strokeWidth":2.5},"encoding":{"x":{"field":"d","type":"temporal"},"y":{"field":"b","type":"quantitative"}}},
{"data":{"name":"mg"},"mark":{"type":"line","interpolate":"step-after","color":"#0000ff","strokeWidth":2.5},"encoding":{"x":{"field":"d","type":"temporal"},"y":{"field":"s","type":"quantitative"}}},
{"data":{"values":[{}]},"mark":{"type":"text","font":"Noto Sans CJK JP","fontSize":13,"color":"#131722","align":"left","baseline":"middle","text":"出来高＋信用残"},"encoding":{"x":{"datum":1733270400000,"type":"temporal"},"y":{"datum":5049000,"type":"quantitative"}}},
{"data":{"values":[{}]},"mark":{"type":"text","font":"Noto Sans","fontSize":12.5,"color":"#8fc3f4","align":"left","baseline":"middle","text":"373000.0"},"encoding":{"x":{"datum":1739491200000,"type":"temporal"},"y":{"datum":5049000,"type":"quantitative"}}},
{"data":{"values":[{}]},"mark":{"type":"text","font":"DejaVu Sans","fontSize":12,"color":"#131722","align":"center","baseline":"middle","text":"⊘"},"encoding":{"x":{"datum":1743292800000,"type":"temporal"},"y":{"datum":5049000,"type":"quantitative"}}},
{"data":{"values":[{}]},"mark":{"type":"text","font":"DejaVu Sans","fontSize":12,"color":"#131722","align":"center","baseline":"middle","text":"⊘"},"encoding":{"x":{"datum":1744416000000,"type":"temporal"},"y":{"datum":5049000,"type":"quantitative"}}},
{"data":{"values":[{}]},"mark":{"type":"point","shape":"circle","size":950,"filled":true,"fill":"#ffffff","stroke":"#e0e3eb","strokeWidth":1,"opacity":1},"encoding":{"x":{"datum":1734134400000,"type":"temporal"},"y":{"datum":97000,"type":"quantitative"}}},
{"data":{"values":[{}]},"mark":{"type":"text","font":"Inter","fontSize":15,"fontWeight":900,"color":"#131722","align":"center","baseline":"middle","text":"TV"},"encoding":{"x":{"datum":1734134400000,"type":"temporal"},"y":{"datum":97000,"type":"quantitative"}}},
{"data":{"values":[{}]},"mark":{"type":"rect","width":76,"height":17,"cornerRadius":2,"color":"#90c4f5"},"encoding":{"x":{"datum":1790812800000,"type":"temporal"},"y":{"datum":373000,"type":"quantitative"}}},
{"data":{"values":[{}]},"mark":{"type":"text","fontSize":13,"align":"center","baseline":"middle","color":"#131722","text":"373000.0"},"encoding":{"x":{"datum":1790812800000,"type":"temporal"},"y":{"datum":373000,"type":"quantitative"}}}
]
}
]
}
